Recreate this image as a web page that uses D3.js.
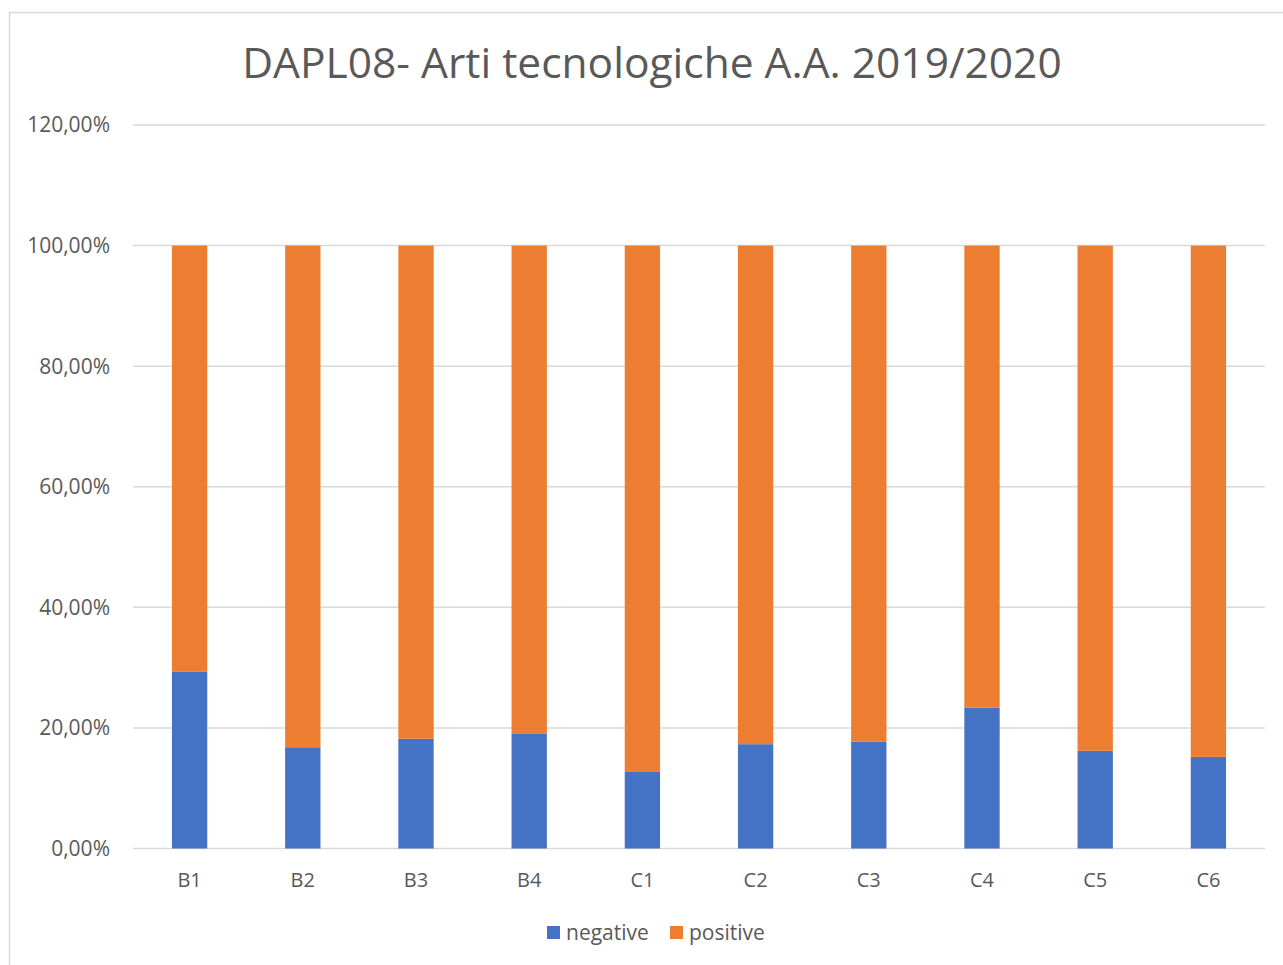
<!DOCTYPE html>
<meta charset="utf-8">
<style>
body { margin: 0; background: #fff; }
.chart text { font-family: "Open Sans", "Noto Sans", sans-serif; fill: #595959; }
.chart .grid line { stroke: #d9d9d9; stroke-width: 1.5; }
.chart .frame { fill: none; stroke: #d9d9d9; stroke-width: 1.5; }
</style>
<body>
<svg class="chart js-chart"></svg>
<script src="https://cdn.jsdelivr.net/npm/d3@7"></script>
<script>
"use strict";

var categories = ["B1", "B2", "B3", "B4", "C1", "C2", "C3", "C4", "C5", "C6"];
var negative = [29.3, 16.8, 18.2, 19.1, 12.7, 17.3, 17.7, 23.35, 16.2, 15.2];
var positive = negative.map(function(v) { return 100 - v; });
var yTicks = [0, 20, 40, 60, 80, 100, 120];
var seriesNames = ["negative", "positive"];
var colors = ["#4472c4", "#ed7d31"];

var width = 1283, height = 965,
    plot = { left: 133, right: 1265, top: 125, bottom: 848.5 };

var svg = d3.select(".js-chart")
    .attr("width", width)
    .attr("height", height);

svg.append("rect")
    .attr("class", "frame")
    .attr("x", 9.5)
    .attr("y", 12.5)
    .attr("width", 1300)
    .attr("height", 1000);

var x = d3.scaleBand()
    .domain(categories)
    .range([plot.left, plot.right])
    .paddingInner(0.688)
    .paddingOuter(0.344);

var y = d3.scaleLinear()
    .domain([0, 120])
    .range([plot.bottom, plot.top]);

// gridlines
svg.append("g")
    .attr("class", "grid")
    .selectAll("line")
    .data(yTicks)
    .join("line")
    .attr("x1", plot.left)
    .attr("x2", plot.right)
    .attr("y1", function(d) { return y(d); })
    .attr("y2", function(d) { return y(d); });

// y tick labels
svg.append("g")
    .selectAll("text")
    .data(yTicks)
    .join("text")
    .attr("x", 110)
    .attr("y", function(d) { return y(d); })
    .attr("dy", "0.35em")
    .attr("text-anchor", "end")
    .style("font-size", "21px")
    .text(function(d) { return d + ",00%"; });

// stacked bars
var rows = categories.map(function(c, i) {
    return { cat: c, negative: negative[i], positive: positive[i] };
});
var stack = d3.stack().keys(seriesNames)(rows);

svg.append("g")
    .selectAll("g")
    .data(stack)
    .join("g")
    .attr("fill", function(d, i) { return colors[i]; })
    .selectAll("rect")
    .data(function(d) { return d; })
    .join("rect")
    .attr("x", function(d) { return x(d.data.cat); })
    .attr("width", x.bandwidth())
    .attr("y", function(d) { return y(d[1]); })
    .attr("height", function(d) { return y(d[0]) - y(d[1]); });

// x labels
svg.append("g")
    .selectAll("text")
    .data(categories)
    .join("text")
    .attr("x", function(d) { return x(d) + x.bandwidth() / 2; })
    .attr("y", 880)
    .attr("dy", "0.35em")
    .attr("text-anchor", "middle")
    .style("font-size", "20px")
    .text(function(d) { return d; });

// title
svg.append("text")
    .attr("x", 652)
    .attr("y", 63)
    .attr("dy", "0.35em")
    .attr("text-anchor", "middle")
    .style("font-size", "42.5px")
    .text("DAPL08- Arti tecnologiche A.A. 2019/2020");

// legend
var legendX = [547, 670];
var legend = svg.append("g")
    .selectAll("g")
    .data(seriesNames)
    .join("g")
    .attr("transform", function(d, i) { return "translate(" + legendX[i] + ",926)"; });

legend.append("rect")
    .attr("width", 13)
    .attr("height", 13)
    .attr("fill", function(d, i) { return colors[i]; });

legend.append("text")
    .attr("x", 19)
    .attr("y", 6.5)
    .attr("dy", "0.35em")
    .style("font-size", "21px")
    .text(function(d) { return d; });
</script>
</body>
